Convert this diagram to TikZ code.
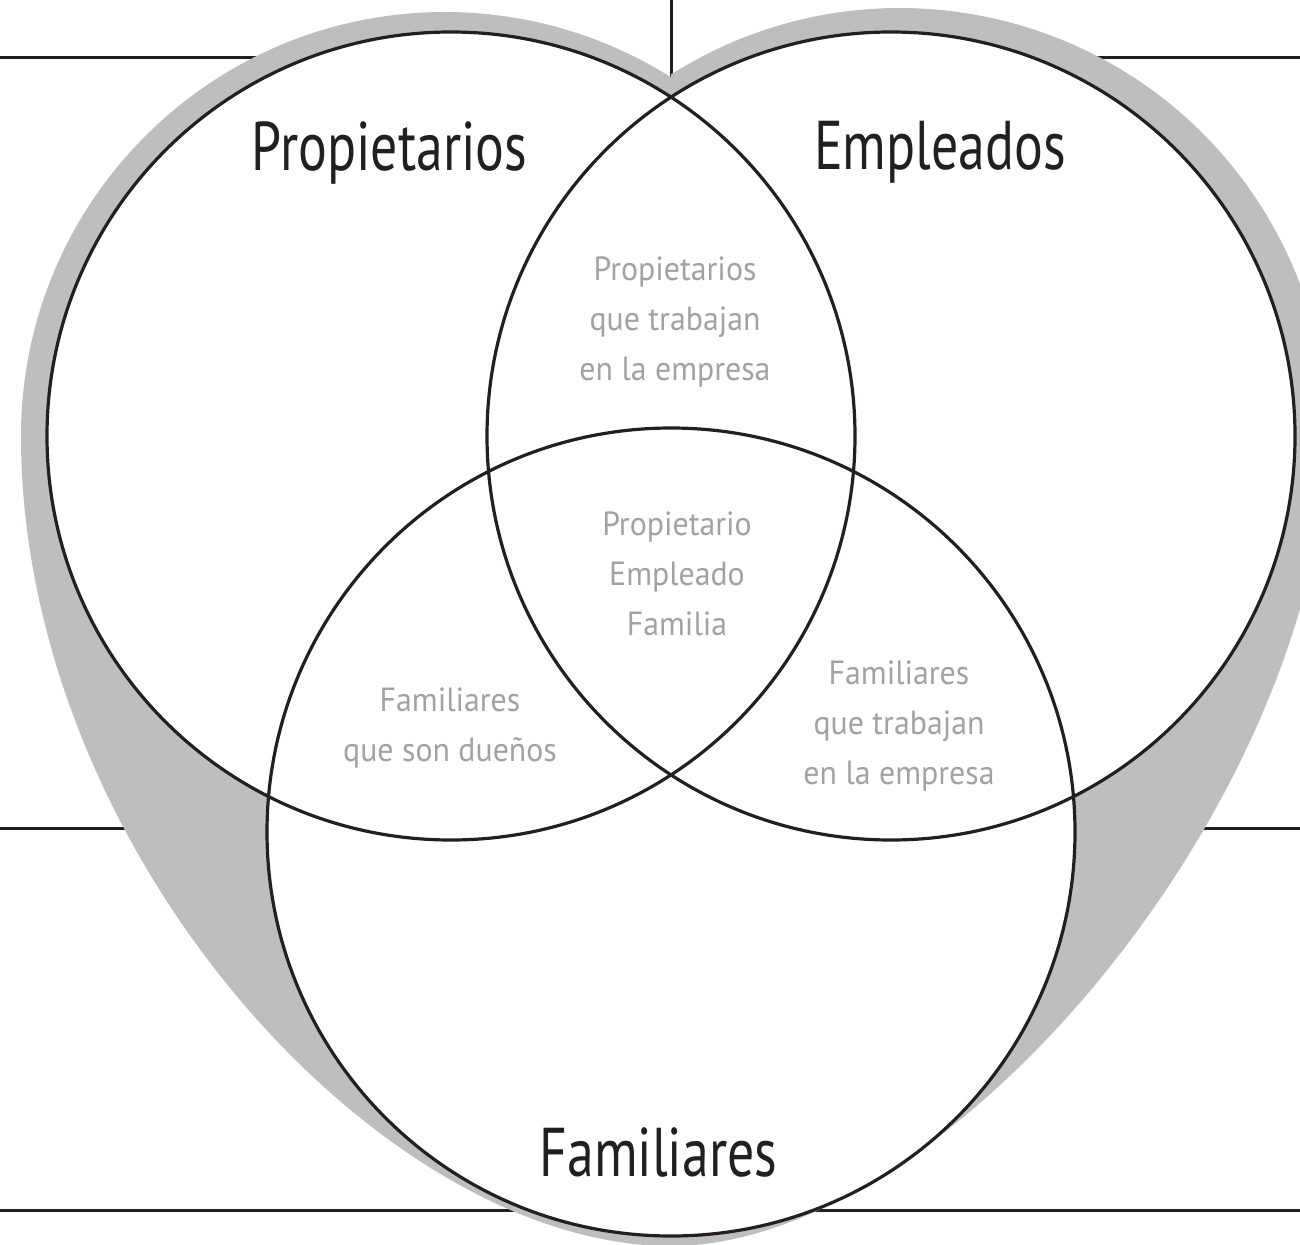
\documentclass[tikz,border=0pt]{standalone}
\usepackage{fontspec}
\setmainfont{PT Sans}
\newfontfamily\bigfont{PT Sans}[FakeStretch=0.78]
\newfontfamily\smallfont{PT Sans}[FakeStretch=0.95]
\definecolor{heartgray}{RGB}{188,190,192}
\definecolor{txtgray}{RGB}{160,162,166}
\definecolor{ink}{RGB}{35,31,32}
\tikzset{
  rule/.style={draw=ink, line width=3pt},
  setcircle/.style={draw=ink, line width=3.2pt},
  biglabel/.style={anchor=base, inner sep=0pt, text=ink, font=\bigfont\fontsize{69}{80}\selectfont},
  smalllabel/.style={anchor=base, inner sep=0pt, text=txtgray, font=\smallfont\fontsize{33.5}{40}\selectfont}
}
\begin{document}
\begin{tikzpicture}[x=1pt,y=-1pt]
\useasboundingbox (0,0) rectangle (1300,1244);
% background rules
\coordinate (tl0) at (0,58);   \coordinate (tl1) at (320,58);
\coordinate (tr0) at (1000,58); \coordinate (tr1) at (1300,58);
\coordinate (v0) at (671,0);   \coordinate (v1) at (671,110);
\coordinate (ml0) at (0,828);  \coordinate (ml1) at (320,828);
\coordinate (mr0) at (1000,828); \coordinate (mr1) at (1300,828);
\coordinate (bl0) at (0,1210); \coordinate (bl1) at (671,1210);
\coordinate (br0) at (671,1210); \coordinate (br1) at (1300,1210);
\draw[rule] (tl0) -- (tl1);
\draw[rule] (tr0) -- (tr1);
\draw[rule] (v0) -- (v1);
\draw[rule] (ml0) -- (ml1);
\draw[rule] (mr0) -- (mr1);
\draw[rule] (bl0) -- (bl1);
\draw[rule] (br0) -- (br1);
% gray heart
\fill[heartgray] (21,436) arc[start angle=180, end angle=302.2, radius=424]
  -- (671,73) -- (671.3,74.3)
  arc[start angle=237.7, end angle=360, radius=428]
  .. controls (1320,800) and (950,1246) .. (671,1246)
  .. controls (380,1246) and (21,850) .. cycle;
% circles
\fill[white] (451,436) circle[radius=404];
\fill[white] (891,436) circle[radius=404];
\fill[white] (671,832) circle[radius=404];
\draw[setcircle] (451,436) circle[radius=404];
\draw[setcircle] (891,436) circle[radius=404];
\draw[setcircle] (671,832) circle[radius=404];
% labels
\node[biglabel] (prop) at (389.5,170) {Propietarios};
\node[biglabel] (empl) at (940,169) {Empleados};
\node[biglabel] (fami) at (658.5,1176) {Familiares};
\node[smalllabel] (pe1) at (675,280) {Propietarios};
\node[smalllabel] (pe2) at (675,330) {que trabajan};
\node[smalllabel] (pe3) at (675,380) {en la empresa};
\node[smalllabel] (c1) at (677,535) {Propietario};
\node[smalllabel] (c2) at (677,585) {Empleado};
\node[smalllabel] (c3) at (677,635) {Familia};
\node[smalllabel] (pf1) at (450,711) {Familiares};
\node[smalllabel] (pf2) at (450,761) {que son dueños};
\node[smalllabel] (ef1) at (899,684) {Familiares};
\node[smalllabel] (ef2) at (899,734) {que trabajan};
\node[smalllabel] (ef3) at (899,784) {en la empresa};
\end{tikzpicture}
\end{document}
